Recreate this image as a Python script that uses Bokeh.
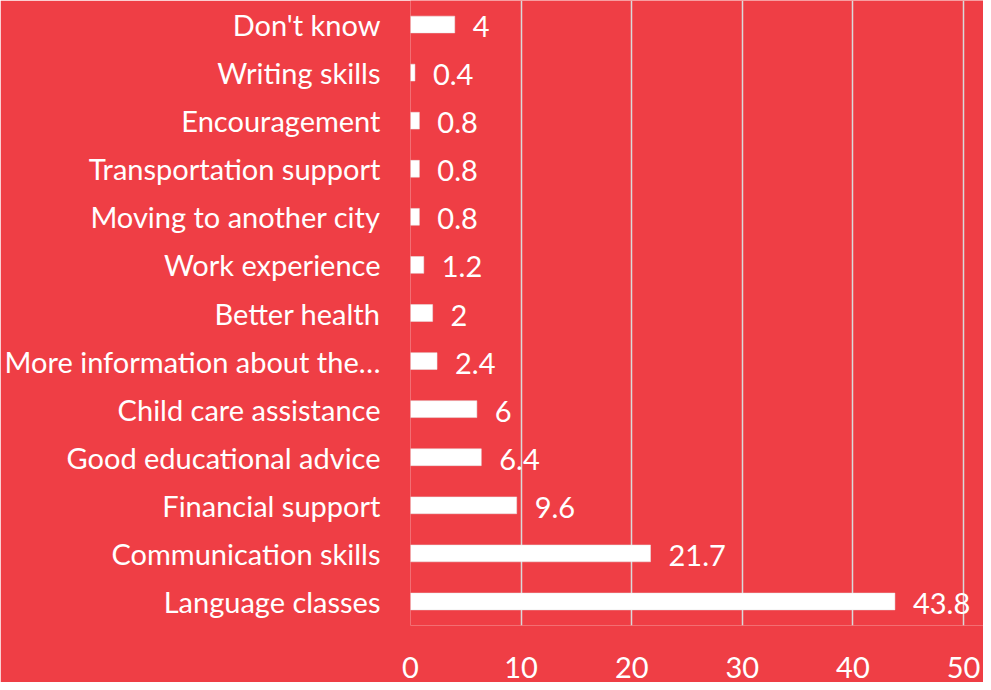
from bokeh.plotting import figure
from bokeh.models import ColumnDataSource, Range1d, FactorRange, FixedTicker, LabelSet
from bokeh.embed import file_html
from bokeh.resources import INLINE
from bokeh.core.properties import value

categories = ["Don't know", "Writing skills", "Encouragement", "Transportation support",
              "Moving to another city", "Work experience", "Better health",
              "More information about the\u2026", "Child care assistance",
              "Good educational advice", "Financial support", "Communication skills",
              "Language classes"]
values = [4, 0.4, 0.8, 0.8, 0.8, 1.2, 2, 2.4, 6, 6.4, 9.6, 21.7, 43.8]
labels = ["4", "0.4", "0.8", "0.8", "0.8", "1.2", "2", "2.4", "6", "6.4", "9.6", "21.7", "43.8"]
x_ticks = [0, 10, 20, 30, 40, 50]

BG = "#EF3E45"
FONT = "Lato"
FS = "29px"

# the frame runs past the 50 gridline so the last value label is not clipped
X_END = 50 * (991 - 418) / (971 - 418)

src = ColumnDataSource(dict(cat=categories, val=values, lab=labels))

p = figure(width=983, height=682, output_backend="svg", toolbar_location=None,
           y_range=FactorRange(*list(reversed(categories)), range_padding=0),
           x_range=Range1d(0, X_END),
           min_border_left=410, min_border_right=0, min_border_top=0, min_border_bottom=57)
p.background_fill_color = BG
p.border_fill_color = BG
p.outline_line_color = None

p.hbar(y="cat", right="val", left=0, height=0.35, source=src,
       fill_color="white", line_color="#E6E6E6", line_width=0.5)

p.add_layout(LabelSet(x="val", y="cat", text="lab", source=src, x_offset=18, y_offset=-2,
                      text_color="white", text_font=value(FONT), text_font_size=FS,
                      text_baseline="middle", text_align="left"))

p.xaxis.ticker = FixedTicker(ticks=x_ticks)
p.xaxis.axis_line_color = None
p.xaxis.major_tick_line_color = None
p.xaxis.minor_tick_line_color = None
p.xaxis.major_label_text_color = "white"
p.xaxis.major_label_text_font = FONT
p.xaxis.major_label_text_font_size = FS
p.xaxis.major_label_standoff = 25

p.yaxis.axis_line_color = None
p.yaxis.major_tick_line_color = None
p.yaxis.minor_tick_line_color = None
p.yaxis.major_label_text_color = "white"
p.yaxis.major_label_text_font = FONT
p.yaxis.major_label_text_font_size = FS
p.yaxis.major_label_standoff = 24

p.ygrid.grid_line_color = None
p.xgrid.ticker = FixedTicker(ticks=x_ticks)
p.xgrid.grid_line_color = "#D9D9D9"
p.xgrid.grid_line_width = 1.5

open("out.html", "w").write(file_html(p, INLINE))
